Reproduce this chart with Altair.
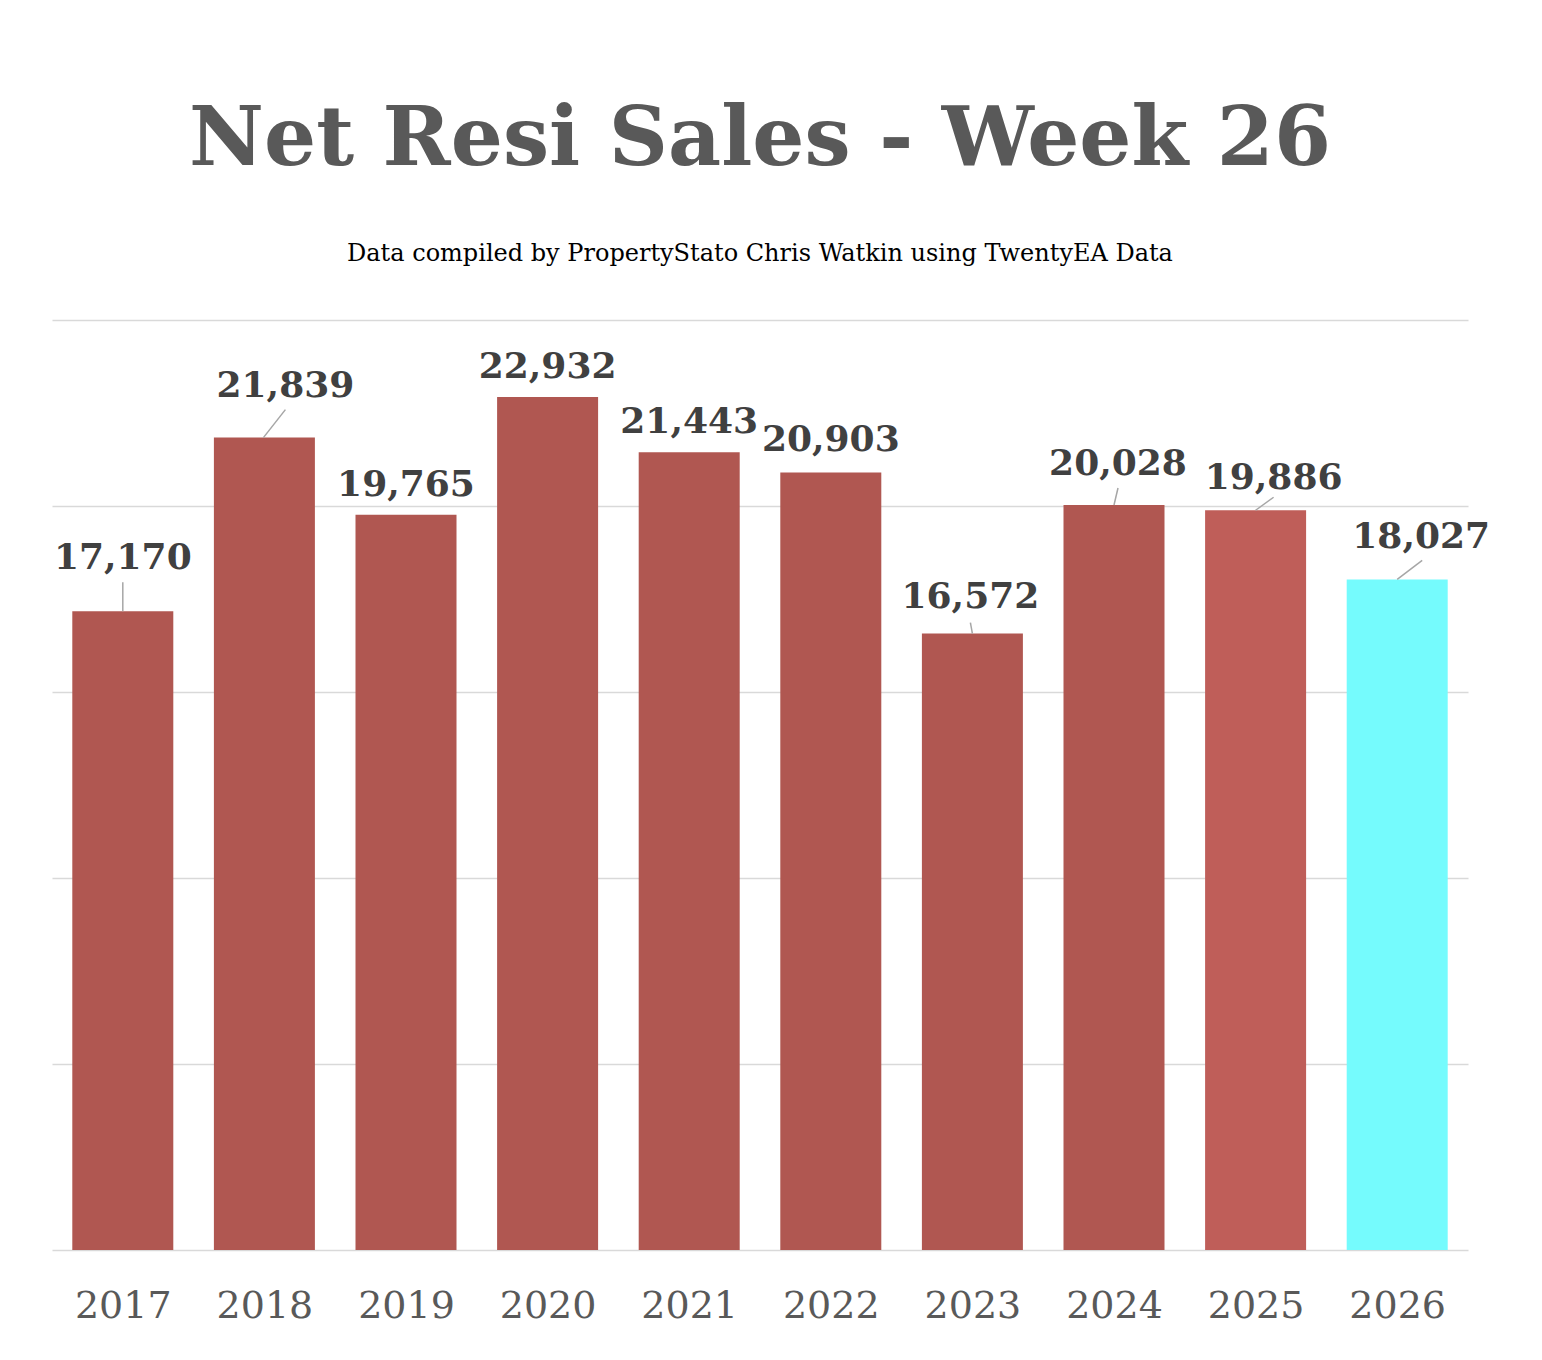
import altair as alt
import pandas as pd

years = [2017, 2018, 2019, 2020, 2021, 2022, 2023, 2024, 2025, 2026]
sales = [17170, 21839, 19765, 22932, 21443, 20903, 16572, 20028, 19886, 18027]

bar_colors = ["#b05751"] * 8 + ["#bf5e59", "#75fbfd"]

# label placement in pixels: shift right, and baseline height above the bar top
label_dx = [0, 21, 0, 0, 0, 0, -2, 4, 18, 24]
label_up = [42, 41, 19, 19, 19, 21, 26, 30, 21, 31]

# leader lines in pixels: x at bar, x at label, rise above the bar top
leaders = {
    2017: (0, 0, 29),
    2018: (-1, 21, 28),
    2023: (0, -2, 11),
    2024: (0, 4, 17),
    2025: (0, 18, 13),
    2026: (0, 25, 19),
}

W, H = 1416, 930
Y_MAX = 25000
yr_per_px = 10 / W
val_per_px = Y_MAX / H

df = pd.DataFrame({"year": years, "sales": sales})
df["label_x"] = [y + d * yr_per_px for y, d in zip(years, label_dx)]
df["label_y"] = [s + u * val_per_px for s, u in zip(sales, label_up)]

lead = pd.DataFrame([
    {
        "year": y,
        "x1": y + a * yr_per_px,
        "x2": y + b * yr_per_px,
        "y1": s,
        "y2": s + rise * val_per_px,
    }
    for y, s in zip(years, sales) if y in leaders
    for a, b, rise in [leaders[y]]
])

serif = "DejaVu Serif"
x_scale = alt.Scale(domain=[2016.5, 2026.5], nice=False, zero=False, padding=0)
y_scale = alt.Scale(domain=[0, Y_MAX], nice=False)
x_axis = alt.Axis(
    values=years, format="d", title=None, grid=False, ticks=False,
    domain=False, labelFont=serif, labelFontSize=38,
    labelColor="#595959", labelPadding=37,
)
y_axis = alt.Axis(
    values=[0, 5000, 10000, 15000, 20000, 25000], labels=False,
    ticks=False, domain=False, title=None, grid=True,
    gridColor="#d9d9d9", gridWidth=1.5,
)

bars = alt.Chart(df).mark_bar(size=101).encode(
    x=alt.X("year:Q", scale=x_scale, axis=x_axis),
    y=alt.Y("sales:Q", scale=y_scale, axis=y_axis),
    color=alt.Color(
        "year:N", scale=alt.Scale(domain=years, range=bar_colors), legend=None
    ),
)

lines = alt.Chart(lead).mark_rule(color="#a6a6a6", strokeWidth=1.5).encode(
    x=alt.X("x1:Q", scale=x_scale, axis=x_axis),
    x2="x2:Q",
    y=alt.Y("y1:Q", scale=y_scale, axis=y_axis),
    y2="y2:Q",
)

labels = alt.Chart(df).mark_text(
    font=serif, fontSize=36, fontWeight="bold", color="#404040",
    baseline="alphabetic", align="center",
).encode(
    x=alt.X("label_x:Q", scale=x_scale, axis=x_axis),
    y=alt.Y("label_y:Q", scale=y_scale, axis=y_axis),
    text=alt.Text("sales:Q", format=","),
)

chart = alt.layer(bars, lines, labels).properties(
    width=W,
    height=H,
    autosize=alt.AutoSizeParams(type="none"),
    padding={"left": 44, "top": 312, "right": 66, "bottom": 100},
    background="white",
    title=alt.TitleParams(
        "Net Resi Sales - Week 26",
        subtitle="Data compiled by PropertyStato Chris Watkin using TwentyEA Data",
        font=serif, fontSize=82, fontWeight="bold", color="#595959",
        subtitleFont=serif, subtitleFontSize=24, subtitleColor="#000000",
        subtitlePadding=60, anchor="middle", offset=53,
    ),
).configure_view(strokeWidth=0)

chart.save("out.html", embed_options={"renderer": "svg", "actions": False})
